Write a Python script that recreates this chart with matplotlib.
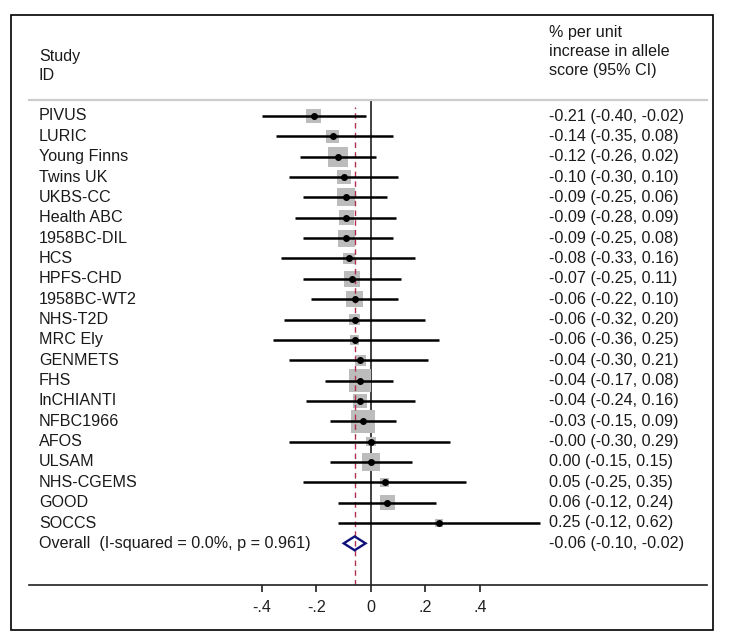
import matplotlib
matplotlib.use('Agg')
import matplotlib.pyplot as plt
import matplotlib.transforms as mtransforms
from matplotlib.patches import Rectangle, Polygon

plt.rcParams['font.family'] = ['Liberation Sans', 'DejaVu Sans']

# ── data ─────────────────────────────────────────────────
studies = ['PIVUS', 'LURIC', 'Young Finns', 'Twins UK', 'UKBS-CC', 'Health ABC',
           '1958BC-DIL', 'HCS', 'HPFS-CHD', '1958BC-WT2', 'NHS-T2D', 'MRC Ely',
           'GENMETS', 'FHS', 'InCHIANTI', 'NFBC1966', 'AFOS', 'ULSAM',
           'NHS-CGEMS', 'GOOD', 'SOCCS']
est = [-0.21, -0.14, -0.12, -0.10, -0.09, -0.09, -0.09, -0.08, -0.07, -0.06,
       -0.06, -0.06, -0.04, -0.04, -0.04, -0.03, -0.00, 0.00, 0.05, 0.06, 0.25]
lo  = [-0.40, -0.35, -0.26, -0.30, -0.25, -0.28, -0.25, -0.33, -0.25, -0.22,
       -0.32, -0.36, -0.30, -0.17, -0.24, -0.15, -0.30, -0.15, -0.25, -0.12, -0.12]
hi  = [-0.02, 0.08, 0.02, 0.10, 0.06, 0.09, 0.08, 0.16, 0.11, 0.10,
       0.20, 0.25, 0.21, 0.08, 0.16, 0.09, 0.29, 0.15, 0.35, 0.24, 0.62]
# approximate study weights (%)
weights = [4.4, 3.6, 8.0, 4.0, 6.6, 4.6, 6.0, 2.8, 5.0, 5.6,
           2.4, 1.8, 2.5, 10.4, 4.0, 11.2, 1.9, 7.2, 1.8, 5.0, 1.2]
labels = ['-0.21 (-0.40, -0.02)', '-0.14 (-0.35, 0.08)', '-0.12 (-0.26, 0.02)',
          '-0.10 (-0.30, 0.10)', '-0.09 (-0.25, 0.06)', '-0.09 (-0.28, 0.09)',
          '-0.09 (-0.25, 0.08)', '-0.08 (-0.33, 0.16)', '-0.07 (-0.25, 0.11)',
          '-0.06 (-0.22, 0.10)', '-0.06 (-0.32, 0.20)', '-0.06 (-0.36, 0.25)',
          '-0.04 (-0.30, 0.21)', '-0.04 (-0.17, 0.08)', '-0.04 (-0.24, 0.16)',
          '-0.03 (-0.15, 0.09)', '-0.00 (-0.30, 0.29)', '0.00 (-0.15, 0.15)',
          '0.05 (-0.25, 0.35)', '0.06 (-0.12, 0.24)', '0.25 (-0.12, 0.62)']

overall_label = 'Overall  (I-squared = 0.0%, p = 0.961)'
overall_est, overall_lo, overall_hi = -0.06, -0.10, -0.02
overall_text = '-0.06 (-0.10, -0.02)'

xticks      = [-0.4, -0.2, 0, 0.2, 0.4]
xticklabels = ['-.4', '-.2', '0', '.2', '.4']

# ── layout (pixels) ──────────────────────────────────────
W, H = 729, 644
PX_ZERO, PX_UNIT = 371, 272.5      # x pixel of 0, pixels per unit
ROW0, ROW_H = 116, 20.35           # y pixel of first row, row height
AX_L, AX_R, AX_T, AX_B = 29, 707, 100, 585
FS = 11.6

def fx(px):
    return px / W

def fy(py):
    return 1 - py / H

fig = plt.figure(figsize=(W / 100, H / 100), dpi=100)
ax = fig.add_axes([fx(AX_L), fy(AX_B), fx(AX_R - AX_L), (AX_B - AX_T) / H])
ax.set_xlim((AX_L - PX_ZERO) / PX_UNIT, (AX_R - PX_ZERO) / PX_UNIT)
ax.set_ylim((AX_B - ROW0) / ROW_H, (AX_T - ROW0) / ROW_H)

rows = list(range(len(studies)))
r_over = len(studies)

# reference lines
ax.axvline(0, color='#202020', lw=1.2, zorder=1)
ax.axvline(overall_est, ymin=0, ymax=(AX_B - 107) / (AX_B - AX_T),
           color='#b03050', lw=1.0, ls=(0, (4, 3)), zorder=2.5)

# boxes, CIs, points
sizes = [(0.72 * 7.0) ** 2 * w for w in weights]
ax.scatter(est, rows, s=sizes, marker='s', color='#bcbcbc', linewidths=0, zorder=2)
ax.hlines(rows, lo, hi, color='black', lw=1.8, zorder=3)
ax.plot(est, rows, 'o', color='black', ms=4.0, zorder=4)

# pooled diamond
dh = 0.34
ax.add_patch(Polygon([(overall_lo, r_over), (overall_est, r_over - dh),
                      (overall_hi, r_over), (overall_est, r_over + dh)],
                     closed=True, fill=False, edgecolor='#10107a', lw=1.7, zorder=4))

# axes styling
for side in ['left', 'right']:
    ax.spines[side].set_visible(False)
ax.spines['top'].set_color('#cccccc')
ax.spines['top'].set_linewidth(1.6)
ax.spines['bottom'].set_color('#202020')
ax.spines['bottom'].set_linewidth(1.2)
ax.set_yticks([])
ax.set_xticks(xticks)
ax.set_xticklabels(xticklabels)
ax.tick_params(axis='x', direction='out', length=5, width=1.2, pad=6,
               labelsize=FS, colors='#202020')
ax.patch.set_visible(False)

# row texts
trans = mtransforms.blended_transform_factory(fig.transFigure, ax.transData)
txt_kw = dict(fontsize=FS, color='#1a1a1a', va='center', transform=trans)
for r, name, lab in zip(rows, studies, labels):
    ax.text(fx(39), r, name, ha='left', **txt_kw)
    ax.text(fx(549), r, lab, ha='left', **txt_kw)
ax.text(fx(39), r_over, overall_label, ha='left', **txt_kw)
ax.text(fx(549), r_over, overall_text, ha='left', **txt_kw)

# headers
hdr_kw = dict(fontsize=FS, color='#1a1a1a', va='center', ha='left')
fig.text(fx(39), fy(57), 'Study', **hdr_kw)
fig.text(fx(39), fy(76), 'ID', **hdr_kw)
fig.text(fx(549), fy(33), '% per unit', **hdr_kw)
fig.text(fx(549), fy(52), 'increase in allele', **hdr_kw)
fig.text(fx(549), fy(70), 'score (95% CI)', **hdr_kw)

# outer frame
fig.patches.append(Rectangle((fx(11), fy(630)), fx(702), 615 / H, fill=False,
                             edgecolor='black', lw=1.2, transform=fig.transFigure))

fig.savefig('out.png', dpi=100)
